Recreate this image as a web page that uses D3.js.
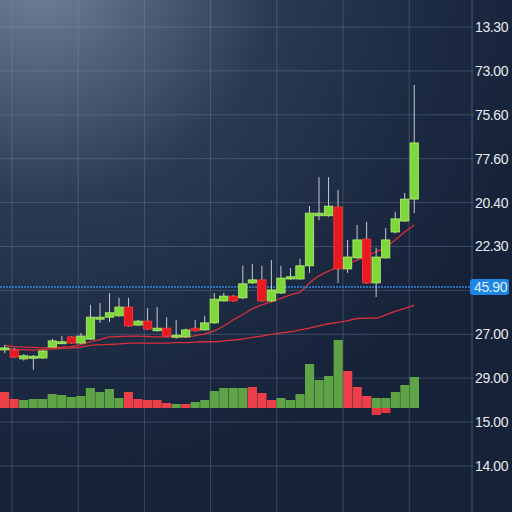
<!DOCTYPE html>
<html><head><meta charset="utf-8">
<script src="https://cdn.jsdelivr.net/npm/d3@7"></script>
<style>html,body{margin:0;padding:0;background:#17243a;}svg{display:block}</style>
</head><body><svg id="c" width="512" height="512"></svg>
<script>
// ---- data ----
const opens  = [26.6,26.4,24.4,24.8,24.6,27.1,28.0,29.4,28.0,28.9,33.5,33.9,34.2,36.2,32.1,33.0,30.8,31.4,29.4,29.4,31.4,31.0,32.6,37.6,38.7,38.3,41.7,42.4,37.6,39.4,42.6,42.6,45.6,57.0,57.0,59.0,44.9,47.4,51.7,41.7,47.4,53.3,55.8,60.8];
const closes = [26.9,24.8,25.1,25.0,26.2,28.5,28.3,28.0,29.6,33.9,33.9,34.9,36.2,31.9,33.0,31.2,31.4,29.6,29.8,31.0,30.8,32.6,38.0,38.7,37.6,41.5,42.4,37.6,40.1,42.8,43.1,45.6,57.6,57.6,59.2,44.9,47.6,51.5,41.7,47.6,51.5,56.3,60.8,73.6];
const highs  = [27.6,26.9,25.5,25.3,26.4,29.0,29.6,29.6,30.3,36.7,37.1,39.4,38.3,38.3,33.3,36.0,36.2,33.9,33.3,31.3,33.3,34.2,39.4,39.4,39.0,45.6,46.0,45.6,46.9,45.6,45.1,47.2,59.2,65.8,65.8,62.9,51.5,54.9,55.6,49.7,54.2,57.9,62.2,86.8];
const lows   = [25.7,24.6,24.0,21.9,24.4,27.0,27.8,27.8,27.9,28.7,32.6,32.8,34.0,31.7,31.9,31.0,30.6,29.4,29.0,29.2,30.6,30.8,32.4,37.4,37.4,38.0,41.5,37.4,37.4,39.2,42.4,42.4,44.0,56.0,56.8,41.7,44.0,47.2,41.5,38.5,47.2,53.0,55.6,57.6];
const maFast = [27.5,27.2,27.1,27.0,26.9,26.9,27.1,27.2,27.7,28.3,28.8,29.4,29.5,29.6,29.6,29.5,29.4,29.4,29.4,29.4,29.7,30.1,30.8,31.9,33.3,34.5,35.8,36.7,37.4,38.2,39.0,39.6,41.7,43.3,44.4,45.2,46.0,46.9,47.8,48.8,49.9,51.5,53.3,54.9];
const maSlow = [26.8,26.6,26.5,26.4,26.5,26.7,26.8,26.9,27.1,27.5,27.6,27.7,27.8,28.0,28.0,28.0,28.0,28.0,28.1,28.1,28.2,28.3,28.3,28.5,28.7,28.9,29.3,29.6,30.0,30.3,30.6,31.0,31.4,31.9,32.4,32.7,33.1,33.6,33.7,33.7,34.4,35.2,35.9,36.6];
const volumes = [16,9,8,9,9,14,13,11,12,20,16,19,10,16,9,8,8,5,4,4,6,8,17,20,20,20,21,15,8,10,8,14,44,28,32,68,37,21,12,10,10,16,23,31];
const volDir  = ["d","d","u","u","u","u","u","u","u","u","u","u","u","d","d","d","d","d","u","d","u","u","u","u","u","u","d","d","d","u","u","u","u","u","u","u","d","d","d","u","u","u","u","u"];
const volBelow = [0,0,0,0,0,0,0,0,0,0,0,0,0,0,0,0,0,0,0,0,0,0,0,0,0,0,0,0,0,0,0,0,0,0,0,0,0,0,0,7,5,0,0,0];
const tickValues = [0,10,20,30,50,60,70,80,90,100];
const tickLabels = ["14.00","15.00","29.00","27.00","22.30","20.40","77.60","75.60","73.00","13.30"];
const lastPrice = 40.8;
const lastPriceLabel = "45.90";

// ---- setup ----
const W = 512, H = 512;
const svg = d3.select("#c");
const defs = svg.append("defs");
const rg = defs.append("radialGradient").attr("id","bg").attr("gradientUnits","userSpaceOnUse")
  .attr("cx",40).attr("cy",-30).attr("r",520);
rg.append("stop").attr("offset","0").attr("stop-color","#74869d");
rg.append("stop").attr("offset","0.18").attr("stop-color","#53647d");
rg.append("stop").attr("offset","0.45").attr("stop-color","#2b3a53");
rg.append("stop").attr("offset","0.75").attr("stop-color","#1c2a42");
rg.append("stop").attr("offset","1").attr("stop-color","#162238");
svg.append("rect").attr("width",W).attr("height",H).attr("fill","url(#bg)");

const idx = d3.range(opens.length);
const x = d3.scaleBand().domain(idx).range([0,419]).paddingInner(0.12).paddingOuter(0.06);
const xv = d3.scaleBand().domain(idx).range([0,419]).paddingInner(0.04).paddingOuter(0);
const cx = i => x(i) + x.bandwidth()/2;
const y = d3.scaleLinear().domain([0,100]).range([466,27]);
const yVol = d3.scaleLinear().domain([0,100]).range([408,308]);

// grid
const gridColor = "rgba(130,150,180,0.32)";
svg.append("g").selectAll("line").data(d3.range(0,101,10)).join("line")
  .attr("x1",0).attr("x2",474).attr("y1",d=>y(d)).attr("y2",d=>y(d))
  .attr("stroke",gridColor).attr("stroke-width",1);
svg.append("g").selectAll("line").data(d3.range(12,470,66.2)).join("line")
  .attr("x1",d=>d).attr("x2",d=>d).attr("y1",0).attr("y2",H)
  .attr("stroke",gridColor).attr("stroke-width",1);
svg.append("line").attr("x1",472).attr("x2",472).attr("y1",0).attr("y2",H)
  .attr("stroke","rgba(140,160,190,0.4)").attr("stroke-width",1);

// volume
svg.append("g").selectAll("rect").data(idx).join("rect")
  .attr("x",i=>xv(i)).attr("width",xv.bandwidth())
  .attr("y",i=>yVol(volumes[i])).attr("height",i=>yVol(0)-yVol(volumes[i]))
  .attr("fill",i=>volDir[i]==="u"?"#5ea447":"#ec3f47");
svg.append("g").selectAll("rect").data(idx.filter(i=>volBelow[i]>0)).join("rect")
  .attr("x",i=>xv(i)).attr("width",xv.bandwidth())
  .attr("y",yVol(0)).attr("height",i=>yVol(0)-yVol(volBelow[i]))
  .attr("fill","#e8363f");

// moving averages
const line = d3.line().x((d,i)=>cx(i)).y(d=>y(d)).curve(d3.curveMonotoneX);
svg.append("path").datum(maSlow).attr("d",line).attr("fill","none").attr("stroke","#d8303c").attr("stroke-width",1.3);
svg.append("path").datum(maFast).attr("d",line).attr("fill","none").attr("stroke","#d8303c").attr("stroke-width",1.3);

// last price line
svg.append("line").attr("x1",0).attr("x2",470).attr("y1",y(lastPrice)).attr("y2",y(lastPrice))
  .attr("stroke","#2f86d8").attr("stroke-width",1.5).attr("stroke-dasharray","2,1");

// candles
const cg = svg.append("g");
cg.selectAll("line").data(idx).join("line")
  .attr("x1",cx).attr("x2",cx).attr("y1",i=>y(highs[i])).attr("y2",i=>y(lows[i]))
  .attr("stroke","#c3cad3").attr("stroke-width",1);
cg.selectAll("rect").data(idx).join("rect")
  .attr("x",i=>x(i)).attr("width",x.bandwidth())
  .attr("y",i=>y(Math.max(opens[i],closes[i])))
  .attr("height",i=>Math.max(2,Math.abs(y(opens[i])-y(closes[i]))))
  .attr("fill",i=>closes[i]>=opens[i]?"#7fd83b":"#e8191f")
  .attr("stroke",i=>closes[i]>=opens[i]?"#b5ef6c":"#ff3a3a").attr("stroke-width",0.8);

// axis
const ax = d3.axisRight(y).tickValues(tickValues).tickSize(0).tickPadding(3)
  .tickFormat(d=>tickLabels[tickValues.indexOf(d)]);
const ag = svg.append("g").attr("transform","translate(472,0)").call(ax);
ag.select(".domain").remove();
ag.selectAll("text").attr("fill","#e6eaf0").style("font-family","'Liberation Sans', Arial, sans-serif")
  .style("font-size","14px").style("letter-spacing","-0.4px");

// last price tag
const tag = svg.append("g").attr("transform",`translate(470,${y(lastPrice)})`);
tag.append("rect").attr("x",0).attr("y",-8).attr("width",39).attr("height",16).attr("rx",3).attr("fill","#1d86e3");
tag.append("text").attr("x",4).attr("y",5).text(lastPriceLabel).attr("fill","#dff0ff")
  .style("font-family","'Liberation Sans', Arial, sans-serif").style("font-size","14px").style("letter-spacing","-0.4px");
</script></body></html>
